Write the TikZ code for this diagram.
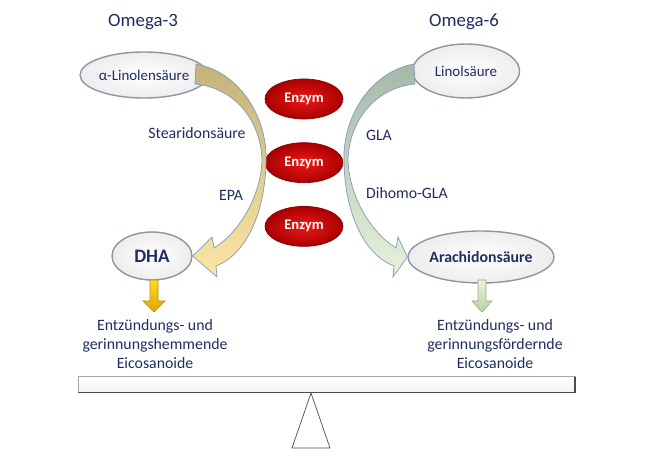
\documentclass[tikz,border=0pt]{standalone}
\usepackage{fontspec}
\setmainfont{Carlito}
\usepackage{tikz}
\usepackage{xcolor}
\usetikzlibrary{shapes.geometric, positioning}

\definecolor{navy}{RGB}{31,45,96}
\definecolor{edgegray}{RGB}{140,150,165}
\definecolor{enzlight}{RGB}{235,25,25}
\definecolor{enzdark}{RGB}{170,0,0}
\definecolor{curveedge}{RGB}{130,155,185}
\definecolor{tantop}{RGB}{195,178,122}
\definecolor{tanbot}{RGB}{251,230,165}
\definecolor{greentop}{RGB}{165,184,168}
\definecolor{greenbot}{RGB}{230,242,220}

\begin{document}
\begin{tikzpicture}[x=0.02cm, y=-0.02cm,
    acid/.style={ellipse, draw=edgegray, thick, inner color=white, outer color=gray!14,
        text=navy, inner sep=0pt, font=\fontsize{8.5}{10}\selectfont},
    enzym/.style={ellipse, draw=enzdark!80!black, inner color=enzlight, outer color=enzdark,
        text=white, inner sep=0pt, minimum width=1.56cm, minimum height=0.8cm,
        font=\bfseries\fontsize{8.3}{10}\selectfont},
    omega/.style={text=navy, font=\fontsize{10.7}{13}\selectfont},
    pathlbl/.style={text=navy, font=\fontsize{9}{11}\selectfont},
    effect/.style={text=navy, align=center, font=\fontsize{9}{11}\selectfont}]

    \useasboundingbox (0,0) rectangle (652,452);

    % headings
    \node[omega] (om3) at (143,22) {Omega-3};
    \node[omega] (om6) at (464,22) {Omega-6};

    % fatty acids
    \node[acid, minimum width=2.1cm, minimum height=0.92cm] (alin) at (144,75) {α-Linolensäure};
    \node[acid, minimum width=2.14cm, minimum height=1.08cm] (lin) at (466,71) {Linolsäure};
    \node[acid, minimum width=1.6cm, minimum height=0.96cm,
        font=\bfseries\fontsize{10.8}{13}\selectfont] (dha) at (152,256) {DHA};
    \node[acid, minimum width=2.68cm, minimum height=1.04cm,
        font=\bfseries\fontsize{9}{11}\selectfont] (ara) at (481,257) {Arachidonsäure};

    % enzymes
    \node[enzym] (enz1) at (304,99) {Enzym};
    \node[enzym, below=0.46cm of enz1] (enz2) {Enzym};
    \node[enzym, below=0.46cm of enz2] (enz3) {Enzym};

    % omega-3 pathway
    \draw[curveedge, top color=tantop, bottom color=tanbot]
        (196,64) .. controls (240,72) and (268,118) .. (266,162)
        .. controls (265,215) and (245,255) .. (216,266)
        -- (217,277) -- (dha.east) -- (212,237) -- (214,248)
        .. controls (240,232) and (261,195) .. (262,160)
        .. controls (261,122) and (236,88) .. (195,84) -- cycle;

    % omega-6 pathway
    \begin{scope}[shift={(610,0)}, xscale=-1]
        \draw[curveedge, top color=greentop, bottom color=greenbot]
            (196,64) .. controls (240,72) and (268,118) .. (266,162)
            .. controls (265,215) and (245,255) .. (216,266)
            -- (217,277) -- (ara.west) -- (212,237) -- (214,248)
            .. controls (240,232) and (261,195) .. (262,160)
            .. controls (261,122) and (236,88) .. (195,84) -- cycle;
    \end{scope}

    \node[pathlbl] (sda) at (197,133) {Stearidonsäure};
    \node[pathlbl] (epa) at (231,195) {EPA};
    \node[pathlbl] (gla) at (379,135) {GLA};
    \node[pathlbl] (dgla) at (407,193) {Dihomo-GLA};

    % down arrows
    \draw[draw={rgb,255:red,185;green,140;blue,0}, top color={rgb,255:red,255;green,220;blue,40},
        bottom color={rgb,255:red,225;green,165;blue,0}, shift={(154,280)}]
        (-4,0) -- (4,0) -- (4,21) -- (11,21) -- (0,32) -- (-11,21) -- (-4,21) -- cycle;
    \draw[draw={rgb,255:red,150;green,175;blue,140}, top color={rgb,255:red,232;green,242;blue,218},
        bottom color={rgb,255:red,185;green,210;blue,165}, shift={(482,280)}]
        (-4,0) -- (4,0) -- (4,21) -- (10,21) -- (0,32) -- (-10,21) -- (-4,21) -- cycle;

    % effects
    \node[effect] (anti) at (155,344) {Entzündungs- und\\gerinnungshemmende\\Eicosanoide};
    \node[effect] (pro) at (495,344) {Entzündungs- und\\gerinnungsfördernde\\Eicosanoide};

    % balance
    \draw[gray!70, top color=white, bottom color=gray!8] (78,376) rectangle (575,392);
    \draw[gray!60!black, line width=0.8pt] (78,392.5) -- (575,392.5) -- (575,376.5);
    \draw[gray!60!black, fill=white] (311,393) -- (330,448) -- (292,448) -- cycle;
\end{tikzpicture}
\end{document}
